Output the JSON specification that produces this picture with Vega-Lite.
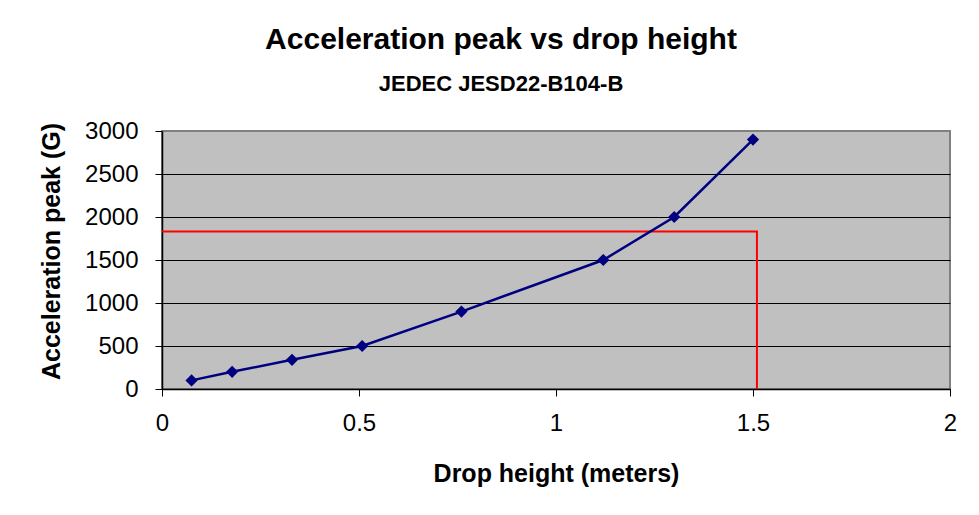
{
  "$schema": "https://vega.github.io/schema/vega-lite/v6.json",
  "autosize": "none",
  "width": 788,
  "height": 258,
  "padding": {"left": 162, "top": 131, "right": 29, "bottom": 126},
  "background": "white",
  "title": {
    "text": "Acceleration peak vs drop height",
    "subtitle": "JEDEC JESD22-B104-B",
    "font": "Liberation Sans",
    "subtitleFont": "Liberation Sans",
    "fontSize": 30,
    "subtitleFontSize": 22,
    "fontWeight": "bold",
    "subtitleFontWeight": "bold",
    "color": "black",
    "subtitleColor": "black",
    "anchor": "middle",
    "dx": -55,
    "offset": 24,
    "subtitlePadding": 19
  },
  "config": {
    "font": "Liberation Sans",
    "view": {"fill": "#C0C0C0", "stroke": "#808080", "strokeWidth": 2}
  },
  "datasets": {
    "measured": [
      {"height_m": 0.075, "accel_g": 100},
      {"height_m": 0.178, "accel_g": 200},
      {"height_m": 0.33, "accel_g": 340},
      {"height_m": 0.508, "accel_g": 500},
      {"height_m": 0.76, "accel_g": 900},
      {"height_m": 1.12, "accel_g": 1500},
      {"height_m": 1.3, "accel_g": 2000},
      {"height_m": 1.5, "accel_g": 2900}
    ],
    "limit": [
      {"height_m": 0, "accel_g": 1830, "seq": 1},
      {"height_m": 1.51, "accel_g": 1830, "seq": 2},
      {"height_m": 1.51, "accel_g": 0, "seq": 3}
    ]
  },
  "layer": [
    {
      "data": {"name": "limit"},
      "mark": {"type": "line", "color": "#FF0000", "strokeWidth": 2},
      "encoding": {
        "x": {
          "field": "height_m",
          "type": "quantitative",
          "scale": {"domain": [0, 2], "nice": false, "zero": false},
          "axis": {
            "title": "Drop height (meters)",
            "values": [0, 0.5, 1, 1.5, 2],
            "format": "~g",
            "grid": false,
            "labelFlush": false,
            "domainColor": "black",
            "domainWidth": 1.5,
            "tickColor": "black",
            "tickSize": 7,
            "tickWidth": 1,
            "labelFont": "Liberation Sans",
            "labelFontSize": 24,
            "labelColor": "black",
            "labelPadding": 15,
            "titleFont": "Liberation Sans",
            "titleFontSize": 25,
            "titleFontWeight": "bold",
            "titleColor": "black",
            "titlePadding": 26
          }
        },
        "y": {
          "field": "accel_g",
          "type": "quantitative",
          "scale": {"domain": [0, 3000], "nice": false},
          "axis": {
            "title": "Acceleration peak (G)",
            "values": [0, 500, 1000, 1500, 2000, 2500, 3000],
            "format": "d",
            "grid": true,
            "gridColor": {"condition": {"test": "datum.value === 3000", "value": "#808080"}, "value": "black"},
            "gridWidth": 1,
            "labelFlush": false,
            "domainColor": "black",
            "domainWidth": 1.5,
            "tickColor": "black",
            "tickSize": 7,
            "tickWidth": 1,
            "labelFont": "Liberation Sans",
            "labelFontSize": 24,
            "labelColor": "black",
            "labelPadding": 17,
            "titleFont": "Liberation Sans",
            "titleFontSize": 25,
            "titleFontWeight": "bold",
            "titleColor": "black",
            "titlePadding": 20,
            "titleY": 120
          }
        },
        "order": {"field": "seq", "type": "quantitative"}
      }
    },
    {
      "data": {"name": "measured"},
      "mark": {
        "type": "line",
        "color": "#000080",
        "strokeWidth": 2.5,
        "point": {"shape": "diamond", "size": 150, "filled": true, "color": "#000080", "opacity": 1}
      },
      "encoding": {
        "x": {"field": "height_m", "type": "quantitative"},
        "y": {"field": "accel_g", "type": "quantitative"}
      }
    }
  ]
}
